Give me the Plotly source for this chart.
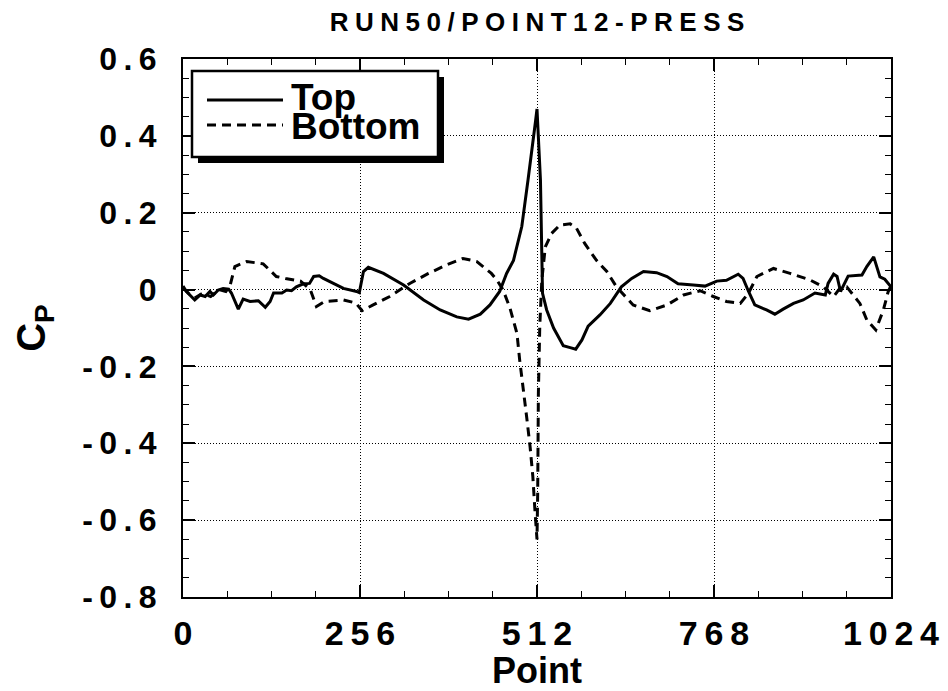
import plotly.graph_objects as go

# Pressure coefficient along the sensor array, upper and lower surface
point_top = [0, 5, 17, 25, 32, 39, 44, 51, 58, 66, 70, 80, 87, 97, 109, 119, 126, 131,
             143, 150, 157, 164, 174, 183, 189, 197, 203, 217, 232, 251, 255, 261, 268,
             290, 319, 348, 372, 396, 413, 430, 444, 458, 468, 478, 490, 499, 504, 507,
             510, 512, 517, 520, 526, 536, 550, 560, 568, 577, 586, 603, 618, 634, 649,
             666, 685, 700, 716, 738, 755, 772, 786, 803, 810, 818, 827, 844, 856, 868,
             883, 897, 914, 929, 933, 941, 946, 951, 957, 962, 982, 989, 999, 1008, 1015,
             1024]
cp_top = [0.009, -0.005, -0.027, -0.014, -0.018, -0.005, -0.014, -0.001, 0.003, 0.001,
          -0.009, -0.051, -0.025, -0.031, -0.029, -0.046, -0.031, -0.009, -0.009, -0.001,
          -0.003, 0.007, 0.015, 0.016, 0.034, 0.036, 0.029, 0.016, 0.003, -0.005, -0.008,
          0.047, 0.058, 0.042, 0.012, -0.027, -0.053, -0.071, -0.077, -0.064, -0.040,
          -0.005, 0.042, 0.076, 0.164, 0.285, 0.350, 0.398, 0.440, 0.470, 0.285, -0.010,
          -0.053, -0.100, -0.146, -0.151, -0.155, -0.131, -0.095, -0.066, -0.036, 0.007,
          0.029, 0.047, 0.044, 0.034, 0.015, 0.012, 0.009, 0.022, 0.024, 0.040, 0.029,
          -0.005, -0.040, -0.053, -0.064, -0.051, -0.036, -0.027, -0.009, -0.014, 0.016,
          0.040, 0.034, -0.005, 0.016, 0.035, 0.038, 0.060, 0.085, 0.033, 0.027, 0.007]

point_bottom = [0, 8, 17, 28, 40, 52, 62, 68, 75, 92, 116, 135, 148, 170, 184, 189, 193,
                205, 232, 250, 259, 275, 299, 328, 355, 381, 405, 425, 446, 454, 463, 473,
                483, 487, 492, 497, 502, 506, 509, 512, 513, 514, 516, 519, 524, 533, 545,
                560, 569, 581, 598, 613, 627, 651, 675, 700, 724, 748, 767, 786, 806, 818,
                830, 854, 878, 907, 926, 941, 950, 960, 979, 989, 1002, 1013, 1020, 1024]
cp_bottom = [0.004, -0.010, -0.022, -0.010, -0.018, 0.000, -0.005, 0.010, 0.060, 0.073,
             0.067, 0.034, 0.029, 0.022, 0.000, -0.027, -0.044, -0.031, -0.027, -0.035,
             -0.055, -0.040, -0.018, 0.016, 0.042, 0.064, 0.081, 0.073, 0.042, 0.025,
             -0.001, -0.049, -0.114, -0.184, -0.253, -0.331, -0.409, -0.487, -0.574,
             -0.650, -0.530, -0.270, -0.095, 0.025, 0.111, 0.146, 0.168, 0.171, 0.160,
             0.120, 0.076, 0.047, 0.007, -0.040, -0.055, -0.040, -0.014, -0.003, -0.018,
             -0.031, -0.036, -0.009, 0.034, 0.055, 0.042, 0.025, 0.007, -0.018, 0.003,
             0.007, -0.036, -0.079, -0.105, -0.053, -0.005, 0.010]

x_ticks = [0, 256, 512, 768, 1024]
y_ticks = [0.6, 0.4, 0.2, 0.0, -0.2, -0.4, -0.6, -0.8]
y_labels = ["0.6", "0.4", "0.2", "0", "-0.2", "-0.4", "-0.6", "-0.8"]
series_names = ["Top", "Bottom"]


def spaced(text, sep):
    return sep.join(text)


# plot area in page pixels, used to place the legend box
L, R, T, B = 183, 891, 59, 597


def fx(px):
    return (px - L) / (R - L)


def fy(py):
    return (B - py) / (B - T)


DASH = "9px,6px"
BOLD = dict(family="Liberation Sans, Arial, sans-serif", color="black", weight="bold")

fig = go.Figure()
fig.add_trace(go.Scatter(x=point_top, y=cp_top, mode="lines", name=series_names[0],
                         line=dict(color="black", width=3)))
fig.add_trace(go.Scatter(x=point_bottom, y=cp_bottom, mode="lines", name=series_names[1],
                         line=dict(color="black", width=3, dash=DASH)))

axis_common = dict(
    showline=True, linewidth=2, linecolor="black", mirror="ticks",
    ticks="inside", ticklen=12, tickwidth=1.5, tickcolor="black",
    showgrid=True, gridcolor="black", gridwidth=1, griddash="1px,2px",
    zeroline=False, ticklabeloverflow="allow", automargin=False,
)

fig.update_xaxes(
    range=[0, 1024], tickvals=x_ticks,
    ticktext=[spaced(str(v), "\u2009") for v in x_ticks],
    tickfont=dict(size=34, **BOLD), ticklabelstandoff=5,
    minor=dict(dtick=64, tick0=0, ticks="inside", ticklen=6, tickwidth=1,
               tickcolor="black", showgrid=False),
    title=dict(text="Point", font=dict(size=36, **BOLD), standoff=6),
    **axis_common,
)
fig.update_yaxes(
    range=[-0.8, 0.6], tickvals=y_ticks, ticktext=[spaced(s, "\u2009") for s in y_labels],
    tickfont=dict(size=32, **BOLD), ticklabelstandoff=18,
    minor=dict(dtick=0.05, tick0=0, ticks="inside", ticklen=6, tickwidth=1,
               tickcolor="black", showgrid=False),
    title=dict(text="C<sub>P</sub>", font=dict(size=40, **BOLD), standoff=24),
    **axis_common,
)

# legend: framed box with a solid drop shadow
box_l, box_t, box_r, box_b, shadow = 192, 71, 438, 157, 6
shapes = [
    dict(type="rect", xref="paper", yref="paper",
         x0=fx(box_l + shadow), x1=fx(box_r + shadow),
         y0=fy(box_b + shadow), y1=fy(box_t + shadow),
         fillcolor="black", line=dict(width=0)),
    dict(type="rect", xref="paper", yref="paper",
         x0=fx(box_l), x1=fx(box_r), y0=fy(box_b), y1=fy(box_t),
         fillcolor="white", line=dict(color="black", width=2.5)),
    dict(type="line", xref="paper", yref="paper",
         x0=fx(207), x1=fx(283), y0=fy(100), y1=fy(100),
         line=dict(color="black", width=3)),
    dict(type="line", xref="paper", yref="paper",
         x0=fx(207), x1=fx(283), y0=fy(125), y1=fy(125),
         line=dict(color="black", width=3, dash=DASH)),
]
annotations = [
    dict(text=series_names[0], xref="paper", yref="paper", x=fx(289), y=fy(98),
         xanchor="left", yanchor="middle", showarrow=False, font=dict(size=37, **BOLD)),
    dict(text=series_names[1], xref="paper", yref="paper", x=fx(289), y=fy(127),
         xanchor="left", yanchor="middle", showarrow=False, font=dict(size=37, **BOLD)),
]

fig.update_layout(
    width=948, height=691,
    margin=dict(l=L, r=948 - R, t=T, b=691 - B, autoexpand=False),
    paper_bgcolor="white", plot_bgcolor="white",
    showlegend=False,
    shapes=shapes, annotations=annotations,
    title=dict(text=spaced("RUN50/POINT12-PRESS", "\u2005"), x=0.5, xref="paper",
               xanchor="center", y=1 - 22 / 691, yref="container", yanchor="middle",
               font=dict(size=26, **BOLD)),
)

fig.write_html("out.html")
